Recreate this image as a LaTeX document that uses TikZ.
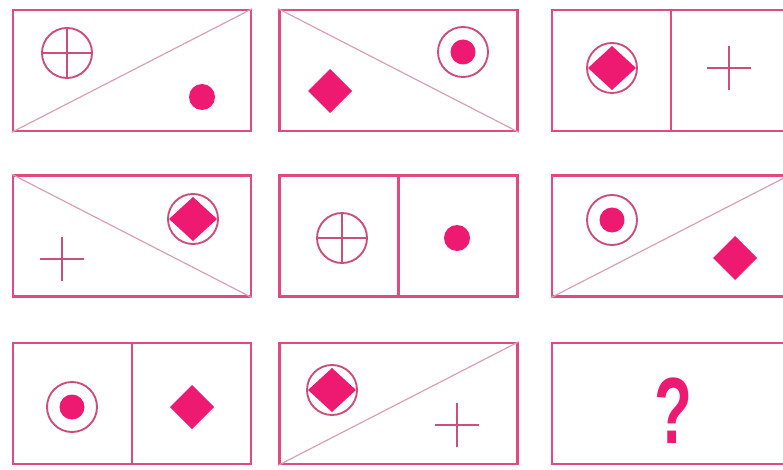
\documentclass[tikz,border=0pt]{standalone}
\usepackage{fontspec}
\setmainfont{Liberation Sans}
\usepackage{tikz}
\usetikzlibrary{positioning}
\definecolor{PuzzleFrame}{HTML}{E04A80}
\definecolor{PuzzleSplit}{HTML}{D9A0B4}
\definecolor{PuzzleInk}{HTML}{CC4F7A}
\definecolor{PuzzleFill}{HTML}{EE1A72}

\begin{document}
\begin{tikzpicture}[
    x=1pt,y=-1pt,
    panel/.style={draw=PuzzleFrame,line width=2.6pt,minimum width=238pt,minimum height=121pt,inner sep=0pt},
    split/.style={draw=PuzzleSplit,line width=1.2pt},
    wall/.style={draw=PuzzleFrame,line width=2.2pt},
    stroke/.style={draw=PuzzleInk,line width=1.9pt},
    ring plus/.pic={\draw[stroke] (0,0) circle[radius=25pt] (-25,0) -- (25,0) (0,-25) -- (0,25);},
    ring dot/.pic={\draw[stroke] (0,0) circle[radius=25pt]; \fill[PuzzleFill] (0,0) circle[radius=12.5pt];},
    ring gem/.pic={\draw[stroke] (0,0) circle[radius=25pt]; \fill[PuzzleFill] (-24,0) -- (0,-22) -- (24,0) -- (0,22) -- cycle;},
    cross/.pic={\draw[stroke] (-22,0) -- (22,0) (0,-22) -- (0,22);},
    dot/.pic={\fill[PuzzleFill] (0,0) circle[radius=13pt];},
    gem/.pic={\fill[PuzzleFill] (-22,0) -- (0,-22) -- (22,0) -- (0,22) -- cycle;}
  ]
    \useasboundingbox (0,0) rectangle (783,470);
    \clip (0,0) rectangle (783,470);

    \node[panel] (b1) at (132,70.5) {};
    \node[panel] (b2) at (398.5,70.5) {};
    \node[panel] (b3) at (671,70.5) {};
    \node[panel] (b4) at (132,236) {};
    \node[panel] (b5) at (398.5,236) {};
    \node[panel] (b6) at (671,236) {};
    \node[panel] (b7) at (132,403.5) {};
    \node[panel] (b8) at (398.5,403.5) {};
    \node[panel] (b9) at (671,403.5) {};

    \draw[split] (b1.south west) -- (b1.north east);
    \draw[split] (b2.north west) -- (b2.south east);
    \draw[wall] (b3.north) -- (b3.south);
    \draw[split] (b4.north west) -- (b4.south east);
    \draw[wall] (b5.north) -- (b5.south);
    \draw[split] (b6.south west) -- (b6.north east);
    \draw[wall] (b7.north) -- (b7.south);
    \draw[split] (b8.south west) -- (b8.north east);

    \pic at (67,53) {ring plus};
    \pic at (202,97) {dot};
    \pic at (463,52) {ring dot};
    \pic at (330,91) {gem};
    \pic at (612,68) {ring gem};
    \pic at (729,68) {cross};

    \pic at (193,219) {ring gem};
    \pic at (62,259) {cross};
    \pic at (342,238) {ring plus};
    \pic at (457,238) {dot};
    \pic at (612,220) {ring dot};
    \pic at (735,258) {gem};

    \pic at (72,407) {ring dot};
    \pic at (192,407) {gem};
    \pic at (332,390) {ring gem};
    \pic at (457,425) {cross};
    \node[text=PuzzleFill,font=\fontsize{94}{94}\selectfont\bfseries,xscale=0.66] (ask) at (673,411) {?};
  \end{tikzpicture}
\end{document}
